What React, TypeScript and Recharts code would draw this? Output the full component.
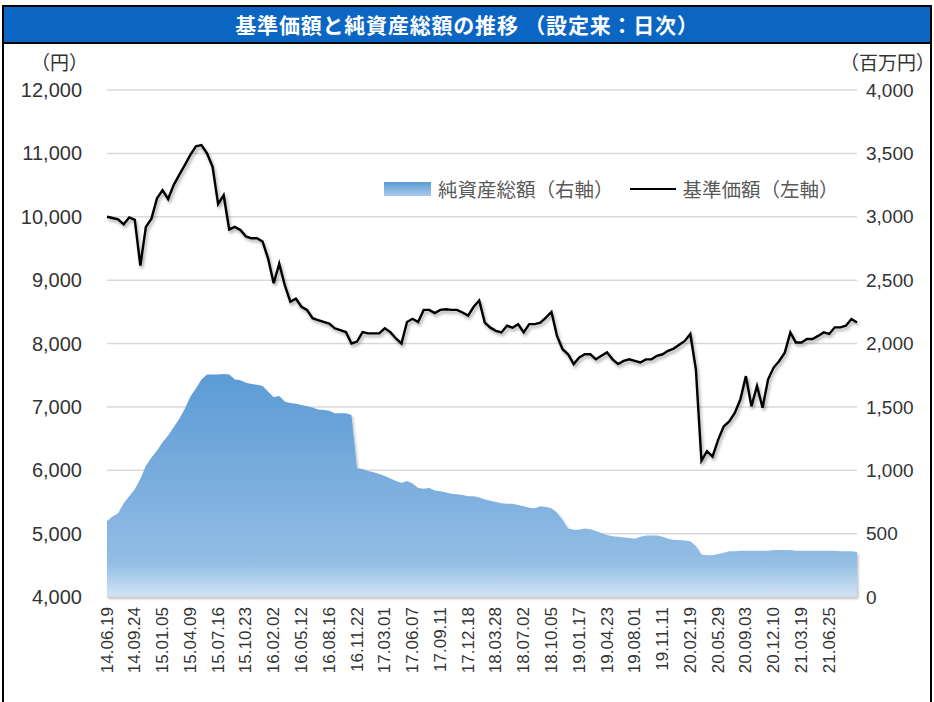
import React from 'react';
import { ComposedChart, Area, Line, XAxis, YAxis, CartesianGrid, Legend } from 'recharts';

const tickLabels = [
  '14.06.19', '14.09.24', '15.01.05', '15.04.09', '15.07.16', '15.10.23', '16.02.02',
  '16.05.12', '16.08.16', '16.11.22', '17.03.01', '17.06.07', '17.09.11', '17.12.18',
  '18.03.28', '18.07.02', '18.10.05', '19.01.17', '19.04.23', '19.08.01', '19.11.11',
  '20.02.19', '20.05.29', '20.09.03', '20.12.10', '21.03.19', '21.06.25',
];

// 基準価額 (円), sampled every 5th point between the dated ticks
const navValues = [
  10000, 9980, 9960, 9880, 9990, 9950, 9230, 9840, 9970, 10290,
  10420, 10280, 10500, 10660, 10815, 10975, 11110, 11130, 11000, 10790,
  10200, 10340, 9800, 9840, 9790, 9690, 9660, 9660, 9610, 9340,
  8950, 9260, 8920, 8660, 8710, 8580, 8530, 8400, 8370, 8340,
  8315, 8240, 8210, 8180, 8000, 8030, 8180, 8160, 8160, 8160,
  8240, 8180, 8080, 8000, 8340, 8390, 8340, 8530, 8530, 8480,
  8530, 8540, 8530, 8530, 8490, 8440, 8580, 8680, 8330, 8250,
  8200, 8175, 8280, 8250, 8305, 8175, 8305, 8305, 8330, 8410,
  8500, 8120, 7910, 7830, 7675, 7780, 7830, 7830, 7750, 7805,
  7860, 7750, 7675, 7725, 7750, 7725, 7700, 7750, 7750, 7805,
  7830, 7885, 7920, 7980, 8040, 8150, 7590, 6150, 6300, 6215,
  6480, 6690, 6770, 6905, 7115, 7485, 7010, 7330, 6985, 7435,
  7620, 7725, 7855, 8175, 8015, 8015, 8070, 8070, 8120, 8175,
  8150, 8255, 8255, 8280, 8385, 8330,
];

// 純資産総額 (百万円)
const aumValues = [
  600, 635, 660, 740, 795, 850, 930, 1035, 1100, 1155,
  1220, 1275, 1340, 1405, 1485, 1580, 1645, 1715, 1755, 1755,
  1755, 1760, 1755, 1715, 1710, 1690, 1680, 1675, 1665, 1620,
  1575, 1585, 1540, 1530, 1525, 1515, 1505, 1495, 1480, 1475,
  1470, 1450, 1450, 1450, 1435, 1015, 1010, 995, 985, 970,
  955, 935, 915, 900, 915, 895, 860, 855, 860, 840,
  835, 825, 815, 810, 805, 795, 795, 785, 770, 760,
  750, 740, 735, 735, 725, 715, 705, 700, 715, 710,
  700, 665, 610, 540, 530, 530, 540, 535, 520, 505,
  490, 480, 475, 470, 465, 460, 475, 485, 485, 485,
  475, 460, 450, 450, 445, 440, 400, 335, 330, 330,
  340, 350, 360, 360, 365, 365, 365, 365, 365, 365,
  370, 370, 370, 370, 365, 365, 365, 365, 365, 365,
  365, 365, 360, 360, 360, 355,
];

const leftTicks = [4000, 5000, 6000, 7000, 8000, 9000, 10000, 11000, 12000];
const rightTicks = [0, 500, 1000, 1500, 2000, 2500, 3000, 3500, 4000];
const POINTS_PER_LABEL = 5;

const data = navValues.map((v, i) => ({ idx: i, nav: v, aum: aumValues[i] }));
const xTicks = tickLabels.map((_, k) => k * POINTS_PER_LABEL);

const NUM_FONT = '"Liberation Sans", Arial, sans-serif';
const JP_FONT = '"Noto Sans CJK JP", "Noto Sans", sans-serif';
const fmt = (v: number) => v.toLocaleString('en-US');

const XTick = (props: any) => {
  const { x, y, payload } = props;
  const label = tickLabels[Math.round(payload.value / POINTS_PER_LABEL)] ?? '';
  const ty = y + 10;
  return (
    <text
      x={x}
      y={ty}
      transform={`rotate(-90, ${x}, ${ty})`}
      textAnchor="end"
      dominantBaseline="central"
      fontFamily={NUM_FONT}
      fontSize={17}
      fill="#333"
    >
      {label}
    </text>
  );
};

const LegendContent = () => (
  <div
    style={{
      display: 'flex',
      alignItems: 'center',
      fontFamily: JP_FONT,
      fontSize: 19.5,
      color: '#595959',
      whiteSpace: 'nowrap',
      lineHeight: '22px',
    }}
  >
    <svg width={47} height={14} style={{ display: 'block' }}>
      <defs>
        <linearGradient id="legendGrad" x1="0" y1="0" x2="0" y2="1">
          <stop offset="0%" stopColor="#5B9BD5" />
          <stop offset="100%" stopColor="#A9CBEC" />
        </linearGradient>
      </defs>
      <rect x={0} y={0} width={47} height={14} fill="url(#legendGrad)" />
    </svg>
    <span style={{ marginLeft: 7 }}>純資産総額（右軸）</span>
    <svg width={46} height={14} style={{ display: 'block', marginLeft: 16 }}>
      <line x1={0} y1={7} x2={46} y2={7} stroke="#000" strokeWidth={2} />
    </svg>
    <span style={{ marginLeft: 7 }}>基準価額（左軸）</span>
  </div>
);

export default function App() {
  return (
    <div style={{ position: 'absolute', left: 0, top: 0, width: 934, height: 702, background: '#fff', overflow: 'hidden' }}>
      {/* frame */}
      <div
        style={{
          position: 'absolute',
          left: 2,
          top: 5,
          width: 930,
          height: 697,
          borderLeft: '2px solid #000',
          borderRight: '2px solid #000',
          boxSizing: 'border-box',
        }}
      />
      {/* title bar */}
      <div
        style={{
          position: 'absolute',
          left: 2,
          top: 5,
          width: 930,
          height: 39,
          background: '#0B66C3',
          border: '2px solid #000',
          boxSizing: 'border-box',
          color: '#fff',
          fontFamily: JP_FONT,
          fontWeight: 700,
          fontSize: 21,
          lineHeight: '35px',
          textAlign: 'center',
          letterSpacing: 0.8,
          whiteSpace: 'nowrap',
        }}
      >
        基準価額と純資産総額の推移 （設定来：日次）
      </div>
      {/* unit labels */}
      <div
        style={{
          position: 'absolute',
          left: 26,
          top: 50,
          width: 62,
          textAlign: 'right',
          fontFamily: JP_FONT,
          fontSize: 19,
          color: '#333',
          lineHeight: '24px',
        }}
      >
        （円）
      </div>
      <div
        style={{
          position: 'absolute',
          left: 840,
          top: 50,
          fontFamily: JP_FONT,
          fontSize: 19,
          color: '#333',
          lineHeight: '24px',
          whiteSpace: 'nowrap',
        }}
      >
        （百万円）
      </div>

      <div style={{ position: 'absolute', left: 0, top: 0 }}>
        <ComposedChart width={934} height={702} data={data} margin={{ top: 90, right: 0, bottom: 0, left: 0 }}>
          <defs>
            <linearGradient id="aumGrad" x1="0" y1="0" x2="0" y2="1">
              <stop offset="0%" stopColor="#5B9BD5" />
              <stop offset="55%" stopColor="#7FB0DF" />
              <stop offset="85%" stopColor="#93BEE5" />
              <stop offset="100%" stopColor="#D3E5F5" />
            </linearGradient>
            <filter id="lineShadow" x="-2%" y="-5%" width="104%" height="115%">
              <feDropShadow dx="1.5" dy="2.5" stdDeviation="1.6" floodColor="#000" floodOpacity="0.35" />
            </filter>
            <filter id="areaShadow" x="-2%" y="-5%" width="104%" height="115%">
              <feDropShadow dx="1.5" dy="2" stdDeviation="1.2" floodColor="#000" floodOpacity="0.25" />
            </filter>
          </defs>
          <CartesianGrid horizontal vertical={false} stroke="#D9D9D9" strokeWidth={1.5} yAxisId="left" />
          <XAxis
            dataKey="idx"
            type="number"
            domain={[0, navValues.length - 1]}
            ticks={xTicks}
            interval={0}
            height={105}
            tick={XTick}
            tickLine={false}
            tickSize={0}
            tickMargin={0}
            axisLine={{ stroke: '#D9D9D9', strokeWidth: 1.5 }}
            allowDecimals={false}
          />
          <YAxis
            yAxisId="left"
            orientation="left"
            width={107}
            domain={[4000, 12000]}
            ticks={leftTicks}
            interval={0}
            tickFormatter={fmt}
            axisLine={false}
            tickLine={false}
            tickSize={0}
            tickMargin={25}
            tick={{ fontFamily: NUM_FONT, fontSize: 20, fill: '#333' }}
          />
          <YAxis
            yAxisId="right"
            orientation="right"
            width={77}
            domain={[0, 4000]}
            ticks={rightTicks}
            interval={0}
            tickFormatter={fmt}
            axisLine={false}
            tickLine={false}
            tickSize={0}
            tickMargin={9}
            tick={{ fontFamily: NUM_FONT, fontSize: 19, fill: '#333', textAnchor: 'start' }}
          />
          <Area
            yAxisId="right"
            type="linear"
            dataKey="aum"
            name="純資産総額（右軸）"
            stroke="none"
            fill="url(#aumGrad)"
            fillOpacity={1}
            isAnimationActive={false}
            filter="url(#areaShadow)"
          />
          <Line
            yAxisId="left"
            type="linear"
            dataKey="nav"
            name="基準価額（左軸）"
            stroke="#000"
            strokeWidth={2.4}
            dot={false}
            activeDot={false}
            isAnimationActive={false}
            filter="url(#lineShadow)"
          />
          <Legend
            content={LegendContent}
            layout="horizontal"
            verticalAlign="middle"
            align="center"
            wrapperStyle={{ top: 178, left: 384, width: 'auto', height: 'auto' }}
          />
        </ComposedChart>
      </div>
    </div>
  );
}
